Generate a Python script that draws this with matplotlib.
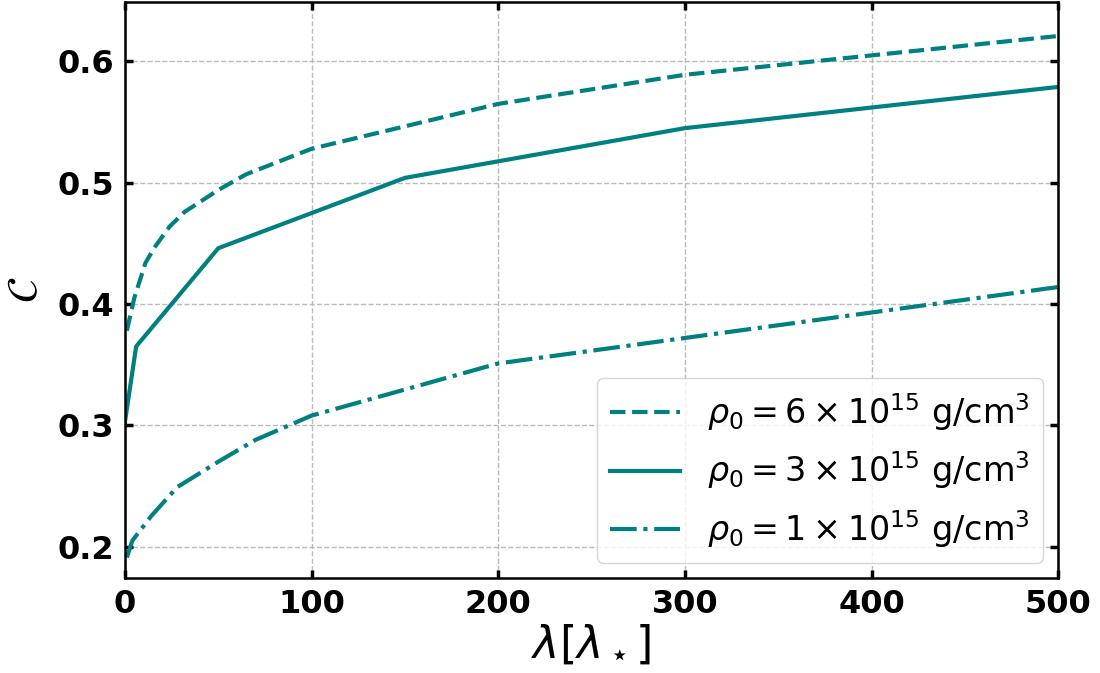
import numpy as np
import matplotlib
matplotlib.use('Agg')
import matplotlib.pyplot as plt

# lambda [lambda_star] values and compactness for each central density
lam_6 = [1, 5, 11, 16, 24, 32, 50, 65, 100, 200, 300, 500]
c_6 = [0.378, 0.405, 0.434, 0.447, 0.464, 0.476, 0.494, 0.507, 0.528, 0.565, 0.589, 0.621]

lam_3 = [0, 6, 50, 150, 300, 500]
c_3 = [0.303, 0.365, 0.446, 0.504, 0.545, 0.579]

lam_1 = [1, 4, 14, 28, 50, 70, 100, 200, 300, 500]
c_1 = [0.191, 0.205, 0.225, 0.249, 0.270, 0.288, 0.308, 0.351, 0.372, 0.414]

labels = [r'$\rho_0 = 6\times10^{15}$ g/cm$^3$',
          r'$\rho_0 = 3\times10^{15}$ g/cm$^3$',
          r'$\rho_0 = 1\times10^{15}$ g/cm$^3$']

col = '#008080'

fig = plt.figure(figsize=(11, 6.73), dpi=100)
ax = fig.add_axes([0.1136, 0.141, 0.8484, 0.856])

ax.plot(lam_6, c_6, '--', color=col, lw=3, label=labels[0])
ax.plot(lam_3, c_3, '-', color=col, lw=3, label=labels[1])
ax.plot(lam_1, c_1, '-.', color=col, lw=3, label=labels[2])

ax.set_xlim(0, 500)
ax.set_ylim(0.174, 0.649)
ax.set_xticks([0, 100, 200, 300, 400, 500])
ax.set_yticks([0.2, 0.3, 0.4, 0.5, 0.6])

ax.grid(True, ls='--', color='#bbbbbb', lw=1)
ax.tick_params(direction='in', which='both', top=True, right=True,
               width=2.5, length=6, labelsize=23, pad=8)
for lab in ax.get_xticklabels() + ax.get_yticklabels():
    lab.set_fontweight('bold')
for sp in ax.spines.values():
    sp.set_linewidth(1.8)

ax.set_xlabel(r'$\lambda[\lambda_\star]$', fontsize=32, labelpad=2)
ax.set_ylabel(r'$\mathcal{C}$', fontsize=30, labelpad=8)

ax.legend(loc='lower right', fontsize=24, handlelength=2.1,
          borderaxespad=0.45, labelspacing=0.5)

fig.savefig('out.png', dpi=100)
